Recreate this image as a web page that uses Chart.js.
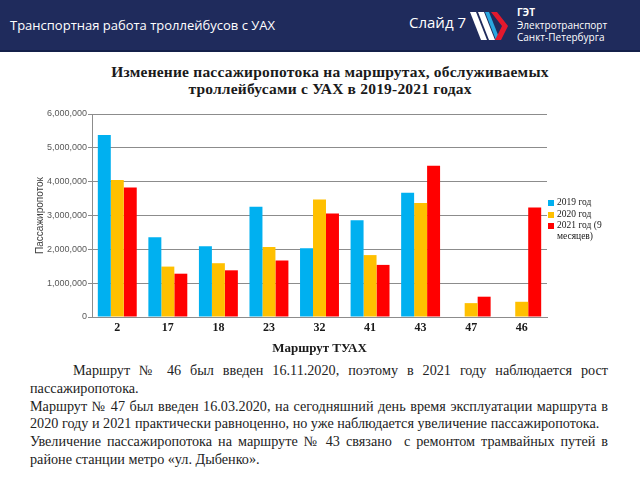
<!DOCTYPE html>
<html>
<head>
<meta charset="utf-8">
<script src="https://cdn.jsdelivr.net/npm/chart.js@4.4.1/dist/chart.umd.min.js"></script>
<style>
  html, body { margin: 0; padding: 0; width: 640px; height: 480px; background: #fff; overflow: hidden; }
  #header { position: absolute; left: 0; top: 0; width: 640px; height: 50px; background: #1f2b5c; border-bottom: 2px solid #14204a; }
  #htitle { position: absolute; left: 10px; top: 16px; color: #fff; font: 13px "Open Sans", sans-serif; white-space: nowrap; }
  #slide { position: absolute; left: 409px; top: 12px; color: #fff; font: 15px "Open Sans", sans-serif; white-space: nowrap; }
  #logo { position: absolute; left: 470px; top: 10px; }
  #logotext { position: absolute; left: 517px; top: 6px; color: #fff; font: 10px "Open Sans", sans-serif; line-height: 12.5px; white-space: nowrap; }
  #logotext b { font-weight: 700; }
  #ctitle { position: absolute; left: 20px; top: 63px; width: 620px; text-align: center; font: bold 15.5px "Liberation Serif", serif; letter-spacing: 0.2px; line-height: 17px; color: #1a1a1a; }
  #wrap { position: absolute; left: 0; top: 100px; width: 640px; height: 262px; }
  #legend { position: absolute; left: 548px; top: 197px; font: 9.5px "Liberation Serif", serif; color: #1a1a1a; line-height: 10.5px; }
  .li { position: relative; padding-left: 9px; width: 52px; margin-bottom: 1px; }
  .sw { position: absolute; left: 0; top: 3px; width: 6px; height: 6px; }
  #para { position: absolute; left: 30px; top: 362px; width: 578px; text-align: justify; font: 14.2px "Liberation Serif", serif; line-height: 17.8px; color: #222; }
  #para p { margin: 0; }
</style>
</head>
<body>
<div id="header">
  <div id="htitle">Транспортная работа троллейбусов с УАХ</div>
  <div id="slide">Слайд 7</div>
  <svg id="logo" width="42" height="32" viewBox="0 0 42 32">
    <polygon points="0,2 6,2 17,30 11,30" fill="#ffffff"/>
    <polygon points="8,2 14,2 25,30 19,30" fill="#ffffff"/>
    <polygon points="15,2 19,2 30,30 26,30" fill="#2aa8e0"/>
    <polygon points="21,2 27,2 38,16 31,30 25,30 32,16" fill="#e3192d"/>
  </svg>
  <div id="logotext"><b>ГЭТ</b><br>Электротранспорт<br>Санкт-Петербурга</div>
</div>
<div id="ctitle">Изменение пассажиропотока на маршрутах, обслуживаемых<br>троллейбусами с УАХ в 2019-2021 годах</div>
<div id="wrap"><canvas id="c"></canvas></div>
<div id="legend"></div>
<div id="para">
  <p style="text-indent:43px">Маршрут № 46 был введен 16.11.2020, поэтому в 2021 году наблюдается рост пассажиропотока.</p>
  <p>Маршрут № 47 был введен 16.03.2020, на сегодняшний день время эксплуатации маршрута в 2020 году и 2021 практически равноценно, но уже наблюдается увеличение пассажиропотока.</p>
  <p>Увеличение пассажиропотока на маршруте № 43 связано &nbsp;с ремонтом трамвайных путей в районе станции метро «ул. Дыбенко».</p>
</div>
<script>
const routes = ['2', '17', '18', '23', '32', '41', '43', '47', '46'];
const seriesNames = ['2019 год', '2020 год', '2021 год (9 месяцев)'];
const values2019 = [5380000, 2360000, 2090000, 3260000, 2030000, 2860000, 3670000, null, null];
const values2020 = [4050000, 1490000, 1590000, 2070000, 3470000, 1830000, 3370000, 410000, 450000];
const values2021 = [3830000, 1280000, 1380000, 1670000, 3060000, 1540000, 4470000, 600000, 3240000];
const yTicks = [0, 1000000, 2000000, 3000000, 4000000, 5000000, 6000000];
const colors = ['#00b0f0', '#ffc000', '#ff0000'];

const allValues = [values2019, values2020, values2021];
const datasets = allValues.map((v, i) => ({
  label: seriesNames[i],
  data: v,
  backgroundColor: colors[i],
  borderWidth: 0,
  barPercentage: 1.0,
  categoryPercentage: 0.77
}));

const leg = document.getElementById('legend');
seriesNames.forEach((n, i) => {
  const d = document.createElement('div');
  d.className = 'li';
  d.innerHTML = '<span class="sw" style="background:' + colors[i] + '"></span>' + n;
  leg.appendChild(d);
});

new Chart(document.getElementById('c'), {
  type: 'bar',
  data: { labels: routes, datasets: datasets },
  options: {
    responsive: true,
    maintainAspectRatio: false,
    animation: false,
    layout: { padding: { left: 0, top: 14, right: 93, bottom: 0 } },
    plugins: { legend: { display: false }, tooltip: { enabled: false } },
    scales: {
      x: {
        grid: { display: false, drawTicks: false },
        border: { display: true, color: '#8c8c8c', width: 1 },
        ticks: { padding: 4, color: '#1a1a1a', font: { family: 'Liberation Serif', size: 12, weight: 'bold' } },
        title: { display: true, text: 'Маршрут ТУАХ', color: '#1a1a1a', font: { family: 'Liberation Serif', size: 13, weight: 'bold' }, padding: { top: 0, bottom: 6 } },
        afterFit: s => { s.height = 45; }
      },
      y: {
        min: 0, max: 6000000,
        afterBuildTicks: s => { s.ticks = yTicks.map(v => ({ value: v })); },
        grid: { color: '#8c8c8c', lineWidth: 1, tickLength: 4, drawTicks: true },
        border: { display: true, color: '#8c8c8c', width: 1 },
        ticks: { padding: 1, color: '#595959', font: { family: 'Liberation Sans', size: 9 }, callback: v => v.toLocaleString('en-US') },
        title: { display: true, text: 'Пассажиропоток', color: '#404040', font: { family: 'Liberation Sans', size: 10 }, padding: { top: 34, bottom: 0 } },
        afterFit: s => { s.width = 92; }
      }
    }
  }
});
</script>
</body>
</html>
